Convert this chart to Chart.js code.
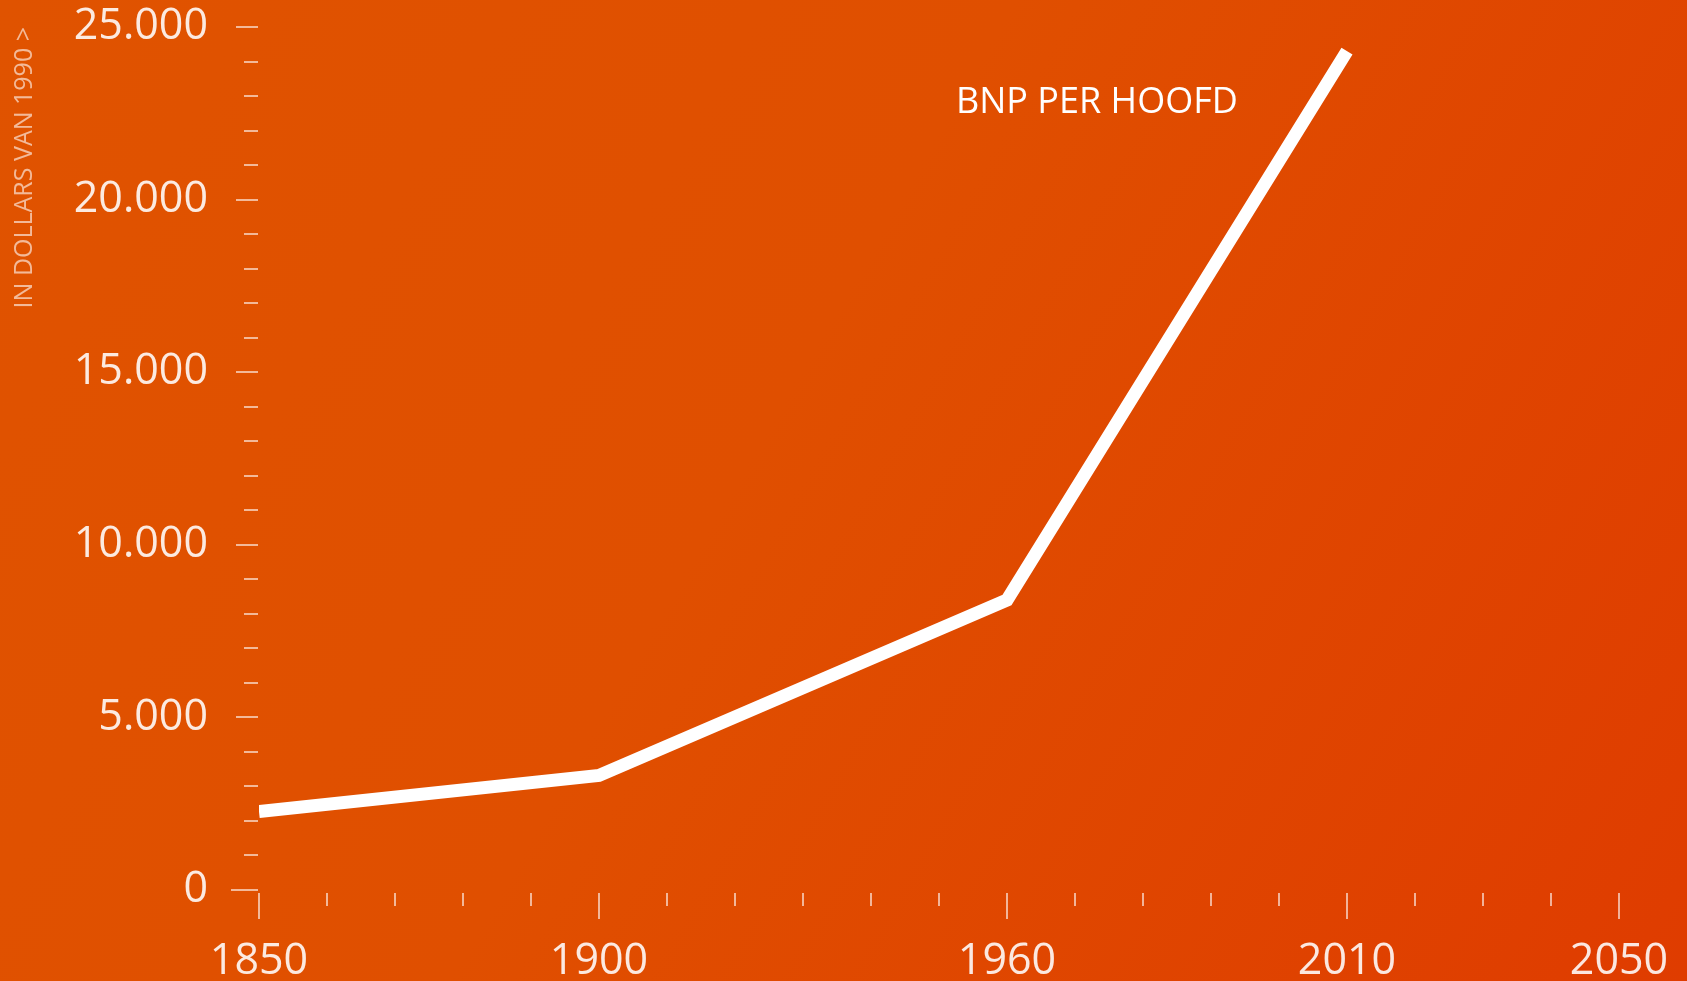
<!DOCTYPE html>
<html>
<head>
<meta charset="utf-8">
<script src="https://cdn.jsdelivr.net/npm/chart.js@4/dist/chart.umd.min.js"></script>
<style>
  html, body { margin: 0; padding: 0; overflow: hidden; }
  body {
    width: 1687px; height: 981px;
    background: linear-gradient(120deg, #e05300 0%, #e04f00 45%, #df3c00 100%);
  }
  #wrap { width: 1687px; height: 981px; }
</style>
</head>
<body>
<div id="wrap"><canvas id="chart" width="1687" height="981"></canvas></div>
<script>
// GDP per head, dollars of 1990
const years = [1850, 1900, 1960, 2010];
const gdpPerHead = [2270, 3320, 8400, 24300];

const xLabelYears = [1850, 1900, 1960, 2010, 2050];
const yLabelValues = [0, 5000, 10000, 15000, 20000, 25000];

const seriesLabel = "BNP PER HOOFD";
const labelAnchor = { year: 1952.5, value: 22500 };
const yTitle = "IN DOLLARS VAN 1990 >";

const fmt = (v) => String(v).replace(/\B(?=(\d{3})+(?!\d))/g, ".");
const tickColor = "rgba(255,255,255,0.6)";
const labelColor = "rgba(255,255,255,0.88)";

// small tick marks, long at labelled values
const tickMarks = {
  id: "tickMarks",
  beforeDatasetsDraw(chart) {
    const { ctx, chartArea, scales: { x, y } } = chart;
    ctx.save();
    ctx.strokeStyle = tickColor;
    ctx.lineWidth = 2;
    ctx.beginPath();
    y.ticks.forEach((t) => {
      const py = Math.round(y.getPixelForValue(t.value));
      let len = 15;
      if (yLabelValues.includes(t.value)) len = t.value === 0 ? 28 : 23;
      ctx.moveTo(chartArea.left - len, py);
      ctx.lineTo(chartArea.left - 1, py);
    });
    x.ticks.forEach((t) => {
      const px = Math.round(x.getPixelForValue(t.value));
      const len = xLabelYears.includes(t.value) ? 26 : 13;
      ctx.moveTo(px, chartArea.bottom + 3);
      ctx.lineTo(px, chartArea.bottom + 3 + len);
    });
    ctx.stroke();
    ctx.restore();
  }
};

const seriesName = {
  id: "seriesName",
  afterDatasetsDraw(chart) {
    const { ctx, scales: { x, y } } = chart;
    ctx.save();
    ctx.fillStyle = "#ffffff";
    ctx.font = "36px 'Open Sans'";
    ctx.textAlign = "left";
    ctx.textBaseline = "alphabetic";
    ctx.fillText(seriesLabel, x.getPixelForValue(labelAnchor.year), y.getPixelForValue(labelAnchor.value));
    ctx.restore();
  }
};

new Chart(document.getElementById("chart"), {
  type: "line",
  data: {
    datasets: [{
      label: seriesLabel,
      data: years.map((yr, i) => ({ x: yr, y: gdpPerHead[i] })),
      borderColor: "#ffffff",
      borderWidth: 13,
      borderCapStyle: "butt",
      borderJoinStyle: "miter",
      pointRadius: 0,
      tension: 0,
      fill: false
    }]
  },
  options: {
    responsive: false,
    animation: false,
    layout: { padding: { top: 27, left: 0, right: 68, bottom: 0 } },
    plugins: {
      legend: { display: false },
      tooltip: { enabled: false }
    },
    scales: {
      x: {
        type: "linear",
        min: 1850,
        max: 2050,
        afterFit: (s) => { s.height = 91; s.paddingLeft = 0; s.paddingRight = 0; },
        grid: { display: false, drawTicks: false },
        border: { display: false },
        ticks: {
          stepSize: 10,
          autoSkip: false,
          maxRotation: 0,
          padding: 46,
          color: labelColor,
          font: { family: "'Open Sans'", size: 43 },
          callback: (v) => xLabelYears.includes(v) ? String(v) : ""
        }
      },
      y: {
        min: 0,
        max: 25000,
        afterFit: (s) => { s.width = 259; s.paddingTop = 0; s.paddingBottom = 0; },
        grid: { display: false, drawTicks: false },
        border: { display: false },
        title: {
          display: true,
          text: yTitle,
          align: "end",
          color: "rgba(255,255,255,0.6)",
          font: { family: "'Open Sans'", size: 25 },
          padding: { top: 10, bottom: 0 }
        },
        ticks: {
          stepSize: 1000,
          autoSkip: false,
          padding: 51,
          color: labelColor,
          font: { family: "'Open Sans'", size: 43 },
          callback: (v) => yLabelValues.includes(v) ? fmt(v) : ""
        }
      }
    }
  },
  plugins: [tickMarks, seriesName]
});
</script>
</body>
</html>
